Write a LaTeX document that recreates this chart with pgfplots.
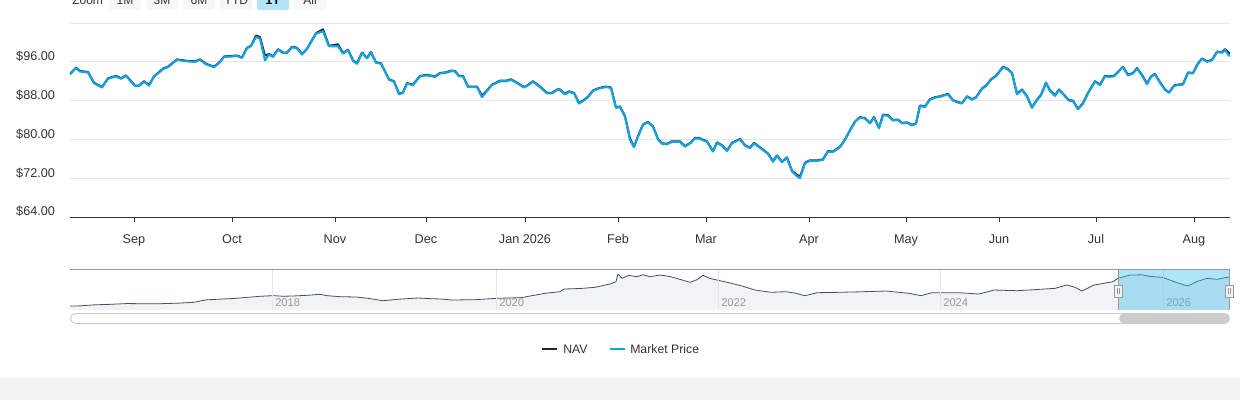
\documentclass[border=0pt]{standalone}
\usepackage{pgfplots}
\pgfplotsset{compat=1.18}
\usepackage{fontspec}
\setmainfont{Liberation Sans}
\definecolor{navc}{HTML}{1E2833}
\definecolor{mpc}{HTML}{14A2E0}
\definecolor{txt}{HTML}{333333}
\definecolor{gridc}{HTML}{E6E6E6}
\definecolor{navfill}{HTML}{F2F3F5}
\definecolor{navline}{HTML}{3F5166}
\definecolor{maskc}{RGB}{57,190,237}
\definecolor{footer}{HTML}{F2F2F2}
\definecolor{btn}{HTML}{F7F7F7}
\definecolor{btnsel}{HTML}{B5E3F7}
\definecolor{outl}{HTML}{999999}
\definecolor{sbc}{HTML}{CCCCCC}
\definecolor{yearc}{HTML}{999999}
\begin{document}
\begin{tikzpicture}
\begin{scope}[x=0.75pt,y=-0.75pt]
\path[use as bounding box] (0,0) rectangle (1240,400);
\clip (0,0) rectangle (1240,400);
\fill[footer] (0,378) rectangle (1240,400);
\node[anchor=base west, inner sep=0, text=txt, font=\fontsize{9pt}{10pt}\selectfont] at (72,4) {Zoom};
\foreach \a/\b/\t in {109/141/1M,146/178/3M,183/215/6M,220/252/YTD,294/326/All}{
  \fill[btn, rounded corners=1.5pt] (\a,-20) rectangle (\b,10);
  \node[anchor=base, inner sep=0, text=txt, font=\fontsize{9pt}{10pt}\selectfont] at ({(\a+\b)/2},4) {\t};
}
\fill[btnsel, rounded corners=1.5pt] (257,-20) rectangle (289,10);
\node[anchor=base, inner sep=0, text=black, font=\bfseries\fontsize{9pt}{10pt}\selectfont] at (273,4) {1Y};
\end{scope}

% ---------- main chart ----------
\begin{axis}[
  at={(52.5pt,-162.75pt)}, anchor=south west,
  scale only axis, width=870pt, height=145.5pt,
  xmin=70, xmax=1230, ymin=64, ymax=104,
  axis x line*=bottom, axis y line*=left,
  x axis line style={-, draw=txt, line width=0.75pt},
  y axis line style={draw=none},
  xtick={134,232,335,426,525,618,706,809,906,999,1096,1194},
  xticklabels={Sep,Oct,Nov,Dec,Jan 2026,Feb,Mar,Apr,May,Jun,Jul,Aug},
  ytick={64,72,80,88,96,104},
  yticklabels={\$64.00,\$72.00,\$80.00,\$88.00,\$96.00,{}},
  ymajorgrids, major grid style={gridc, line width=0.75pt},
  tick align=outside, major tick length=3.75pt,
  xtick style={draw=txt, line width=0.75pt},
  ytick style={draw=none},
  ticklabel style={font=\fontsize{9.5pt}{11pt}\selectfont, text=txt},
  xticklabel style={text height=7pt, text depth=2pt, yshift=-5.3pt},
  yticklabel style={xshift=-4pt, yshift=4pt},
  /pgf/number format/assume math mode=true,
]
\addplot[navc, line width=1.5pt, line join=round] coordinates {
(70,93.5)(76,94.8)(80,94.1)(88,93.9)(94,91.7)(102,90.8)(108,92.6)(116,93.1)(121,92.6)(126,93.2)
(135,91.1)(139,91.1)(144,92.0)(149,91.2)(154,93.0)(163,94.6)(168,95.0)(177,96.5)(187,96.2)(195,96.1)
(200,96.5)(206,95.6)(214,95.0)(220,96.0)(224,97.1)(231,97.2)(237,97.3)(242,96.9)(247,98.9)(251,99.3)
(256,101.4)(260,101.1)(265,97.3)(269,97.6)(273,97.1)(278,98.6)(283,97.9)(287,97.9)(292,99.1)(297,98.9)
(302,97.6)(307,98.7)(316,101.9)(323,102.7)(329,99.3)(338,99.6)(343,97.8)(348,98.5)(353,96.3)(357,95.7)
(362,97.9)(367,96.8)(371,98.0)(376,95.9)(381,95.7)(389,92.4)(394,92.0)(399,89.4)(403,89.7)(407,91.6)
(413,91.3)(418,92.6)(420,93.1)(427,93.3)(435,93.0)(440,93.7)(445,93.8)(452,94.2)(455,94.1)(459,93.1)
(463,93.1)(468,90.9)(477,90.9)(482,89.0)(487,90.1)(492,91.3)(500,92.1)(506,92.1)(511,92.4)(517,91.7)
(524,90.8)(527,91.1)(533,92.0)(540,90.9)(547,89.6)(552,89.6)(557,90.3)(560,90.3)(565,89.4)(569,89.9)
(574,89.6)(579,87.5)(583,88.0)(588,88.8)(593,90.1)(599,90.6)(606,90.9)(611,90.7)(616,86.6)(620,86.8)
(625,84.8)(630,80.2)(634,78.5)(638,80.7)(643,83.1)(648,83.6)(653,82.7)(658,80.1)(662,79.2)(667,79.1)
(672,79.6)(675,79.6)(680,79.6)(685,78.6)(691,79.4)(695,80.3)(699,80.3)(707,79.6)(713,77.6)(717,79.4)
(722,78.8)(727,77.7)(732,79.3)(740,80.1)(745,78.8)(750,78.3)(754,79.3)(763,77.9)(768,77.1)(773,75.5)
(777,76.7)(782,75.4)(787,76.3)(792,73.5)(797,72.7)(800,72.3)(805,75.2)(810,75.7)(818,75.7)(823,75.9)
(828,77.6)(833,77.5)(840,78.5)(845,80.0)(850,81.9)(855,83.7)(860,84.6)(865,84.4)(870,83.4)(874,84.6)
(879,82.4)(883,85.1)(888,85.0)(893,84.0)(898,84.1)(902,83.4)(907,83.5)(912,83.0)(916,83.3)(920,87.0)
(925,86.8)(930,88.3)(935,88.7)(940,88.9)(948,89.4)(953,88.1)(958,87.7)(962,87.5)(967,88.9)(972,88.3)
(976,88.7)(982,90.5)(986,91.1)(991,92.4)(996,93.1)(1003,95.0)(1008,94.5)(1012,93.7)(1017,89.4)(1022,90.3)
(1027,88.9)(1032,86.6)(1037,88.2)(1041,89.2)(1046,91.7)(1050,90.1)(1055,89.1)(1059,90.3)(1064,89.2)(1069,88.1)
(1073,88.0)(1078,86.3)(1083,87.5)(1088,89.6)(1095,92.0)(1100,91.3)(1105,93.1)(1109,93.0)(1114,93.1)(1123,95.0)
(1128,93.3)(1133,93.7)(1137,94.7)(1142,93.3)(1147,91.5)(1151,93.0)(1155,93.5)(1160,91.8)(1165,90.3)(1169,89.7)
(1174,91.1)(1178,91.3)(1183,91.4)(1188,93.8)(1193,93.7)(1198,95.7)(1202,96.7)(1207,96.1)(1212,96.4)(1217,98.1)
(1222,98.0)(1225,98.6)(1229,97.8)(1230,97.7)
};
\addplot[mpc, line width=1.6pt, line join=round] coordinates {
(70,93.4)(76,94.7)(80,94.0)(88,93.8)(94,91.6)(102,90.7)(108,92.5)(116,93.0)(121,92.5)(126,93.1)
(135,91.0)(139,91.0)(144,91.9)(149,91.1)(154,92.9)(163,94.5)(168,94.9)(177,96.4)(187,96.1)(195,96.0)
(200,96.4)(206,95.5)(214,94.9)(220,95.9)(224,97.0)(231,97.1)(237,97.2)(242,96.8)(247,98.8)(251,99.2)
(256,101.1)(260,100.8)(265,96.3)(269,97.5)(273,97.0)(278,98.5)(283,97.8)(287,97.8)(292,99.0)(297,98.8)
(302,97.5)(307,98.6)(316,101.8)(323,102.3)(329,99.2)(338,99.2)(343,97.7)(348,98.4)(353,96.2)(357,95.6)
(362,97.8)(367,96.7)(371,97.9)(376,95.8)(381,95.6)(389,92.3)(394,91.9)(399,89.3)(403,89.6)(407,91.5)
(413,91.2)(418,92.5)(420,93.0)(427,93.2)(435,92.9)(440,93.6)(445,93.7)(452,94.1)(455,94.0)(459,93.0)
(463,93.0)(468,90.8)(477,90.8)(482,88.7)(487,90.0)(492,91.2)(500,92.0)(506,92.0)(511,92.3)(517,91.6)
(524,90.7)(527,91.0)(533,91.9)(540,90.8)(547,89.5)(552,89.5)(557,90.2)(560,90.2)(565,89.3)(569,89.8)
(574,89.5)(579,87.4)(583,87.9)(588,88.7)(593,90.0)(599,90.5)(606,90.8)(611,90.6)(616,86.5)(620,86.7)
(625,84.7)(630,79.9)(634,78.4)(638,80.6)(643,83.0)(648,83.5)(653,82.6)(658,80.0)(662,79.1)(667,79.0)
(672,79.5)(675,79.5)(680,79.5)(685,78.5)(691,79.3)(695,80.2)(699,80.2)(707,79.5)(713,77.5)(717,79.3)
(722,78.7)(727,77.6)(732,79.2)(740,80.0)(745,78.7)(750,78.2)(754,79.2)(763,77.8)(768,77.0)(773,75.4)
(777,76.6)(782,75.3)(787,76.2)(792,73.4)(797,72.4)(800,72.0)(805,75.1)(810,75.6)(818,75.6)(823,75.8)
(828,77.5)(833,77.4)(840,78.4)(845,79.9)(850,81.8)(855,83.6)(860,84.5)(865,84.3)(870,83.3)(874,84.5)
(879,82.3)(883,85.0)(888,84.9)(893,83.9)(898,84.0)(902,83.3)(907,83.4)(912,82.9)(916,83.2)(920,86.9)
(925,86.7)(930,88.2)(935,88.6)(940,88.8)(948,89.3)(953,88.0)(958,87.6)(962,87.4)(967,88.8)(972,88.2)
(976,88.6)(982,90.4)(986,91.0)(991,92.3)(996,93.0)(1003,94.9)(1008,94.4)(1012,93.6)(1017,89.3)(1022,90.2)
(1027,88.8)(1032,86.5)(1037,88.1)(1041,89.1)(1046,91.6)(1050,90.0)(1055,89.0)(1059,90.2)(1064,89.1)(1069,88.0)
(1073,87.9)(1078,86.2)(1083,87.4)(1088,89.5)(1095,91.9)(1100,91.2)(1105,93.0)(1109,92.9)(1114,93.0)(1123,94.9)
(1128,93.2)(1133,93.6)(1137,94.6)(1142,93.2)(1147,91.4)(1151,92.9)(1155,93.4)(1160,91.7)(1165,90.2)(1169,89.6)
(1174,91.0)(1178,91.2)(1183,91.3)(1188,93.7)(1193,93.6)(1198,95.6)(1202,96.6)(1207,96.0)(1212,96.3)(1217,98.0)
(1222,97.9)(1225,98.4)(1229,97.3)(1230,97.2)
};
\end{axis}

% ---------- navigator ----------
\begin{axis}[
  at={(52.5pt,-232.5pt)}, anchor=south west,
  scale only axis, width=870pt, height=30.5pt,
  xmin=70, xmax=1230, ymin=11.3, ymax=116.7,
  axis lines=none, ticks=none,
]
\addplot[draw=none, fill=navfill] coordinates {
(70,21.5)(80,22.0)(93,24.5)(110,26.0)(127,28.0)(145,27.5)(160,27.6)(178,29.0)(194,31.3)(206,37.5)
(220,39.5)(233,41.0)(247,44.0)(260,46.8)(273,48.5)(283,47.0)(293,47.6)(307,49.4)(320,52.0)(327,48.4)
(340,45.8)(356,45.0)(368,41.6)(383,35.4)(398,39.1)(418,42.4)(432,40.5)(441,39.8)(452,37.2)(475,38.0)
(497,41.6)(521,43.2)(545,54.6)(560,58.7)(564,65.7)(580,67.0)(595,70.1)(610,78.6)(616,84.6)(618,104.5)
(622,93.4)(629,101.2)(637,97.6)(643,102.7)(650,97.6)(660,101.9)(670,98.0)(677,93.0)(690,83.1)(697,90.0)
(703,101.2)(710,93.0)(717,89.0)(729,82.0)(742,73.5)(755,63.1)(771,57.2)(786,58.7)(795,55.0)(805,48.4)
(817,56.1)(840,57.2)(863,58.7)(886,60.5)(909,54.6)(921,48.4)(932,56.1)(959,56.1)(979,52.7)(994,63.1)
(1017,61.3)(1040,64.9)(1055,67.5)(1067,76.1)(1075,70.1)(1082,60.5)(1094,76.1)(1113,84.6)(1118,93.4)(1130,101.9)
(1142,102.5)(1150,98.4)(1162,96.0)(1170,89.0)(1177,82.0)(1188,73.5)(1197,85.0)(1207,93.4)(1217,90.8)(1230,97.3)
} \closedcycle;
\addplot[navline, line width=0.6pt, line join=round] coordinates {
(70,21.5)(80,22.0)(93,24.5)(110,26.0)(127,28.0)(145,27.5)(160,27.6)(178,29.0)(194,31.3)(206,37.5)
(220,39.5)(233,41.0)(247,44.0)(260,46.8)(273,48.5)(283,47.0)(293,47.6)(307,49.4)(320,52.0)(327,48.4)
(340,45.8)(356,45.0)(368,41.6)(383,35.4)(398,39.1)(418,42.4)(432,40.5)(441,39.8)(452,37.2)(475,38.0)
(497,41.6)(521,43.2)(545,54.6)(560,58.7)(564,65.7)(580,67.0)(595,70.1)(610,78.6)(616,84.6)(618,104.5)
(622,93.4)(629,101.2)(637,97.6)(643,102.7)(650,97.6)(660,101.9)(670,98.0)(677,93.0)(690,83.1)(697,90.0)
(703,101.2)(710,93.0)(717,89.0)(729,82.0)(742,73.5)(755,63.1)(771,57.2)(786,58.7)(795,55.0)(805,48.4)
(817,56.1)(840,57.2)(863,58.7)(886,60.5)(909,54.6)(921,48.4)(932,56.1)(959,56.1)(979,52.7)(994,63.1)
(1017,61.3)(1040,64.9)(1055,67.5)(1067,76.1)(1075,70.1)(1082,60.5)(1094,76.1)(1113,84.6)(1118,93.4)(1130,101.9)
(1142,102.5)(1150,98.4)(1162,96.0)(1170,89.0)(1177,82.0)(1188,73.5)(1197,85.0)(1207,93.4)(1217,90.8)(1230,97.3)
};
\end{axis}

\begin{scope}[x=0.75pt,y=-0.75pt]
\foreach \g/\y in {272/2018,496/2020,718/2022,940/2024,1163/2026}{
  \draw[gridc, line width=0.75pt] (\g,269) -- (\g,310);
  \node[anchor=base west, inner sep=0, text=yearc, font=\fontsize{8.4pt}{9pt}\selectfont] at (\g+3,306) {\y};
}
\fill[maskc, opacity=0.4] (1118,269) rectangle (1229,310);
\draw[outl, line width=0.75pt] (70,269.5) -- (1230,269.5);
\draw[outl, line width=0.75pt] (1118,269.5) -- (1118,310) (1229,269.5) -- (1229,310);
\foreach \h in {1118,1229}{
  \filldraw[fill=footer, draw=outl, line width=0.75pt] (\h-4,285) rectangle (\h+4,297);
  \draw[outl, line width=0.6pt] (\h-1,288) -- (\h-1,294) (\h+1,288) -- (\h+1,294);
}
\draw[sbc, fill=white, line width=0.75pt, rounded corners=3.75pt] (70.5,313.5) rectangle (1229.5,323.5);
\fill[sbc, rounded corners=3.75pt] (1119,313.5) rectangle (1229,323.5);
% legend
\draw[navc, line width=1.5pt] (542,349) -- (557,349);
\node[anchor=west, inner sep=0, text=txt, font=\fontsize{9.2pt}{11pt}\selectfont] at (563,349) {NAV};
\draw[mpc, line width=1.5pt] (610,349) -- (625,349);
\node[anchor=west, inner sep=0, text=txt, font=\fontsize{9.2pt}{11pt}\selectfont] at (630,349) {Market Price};
\end{scope}
\end{tikzpicture}
\end{document}
